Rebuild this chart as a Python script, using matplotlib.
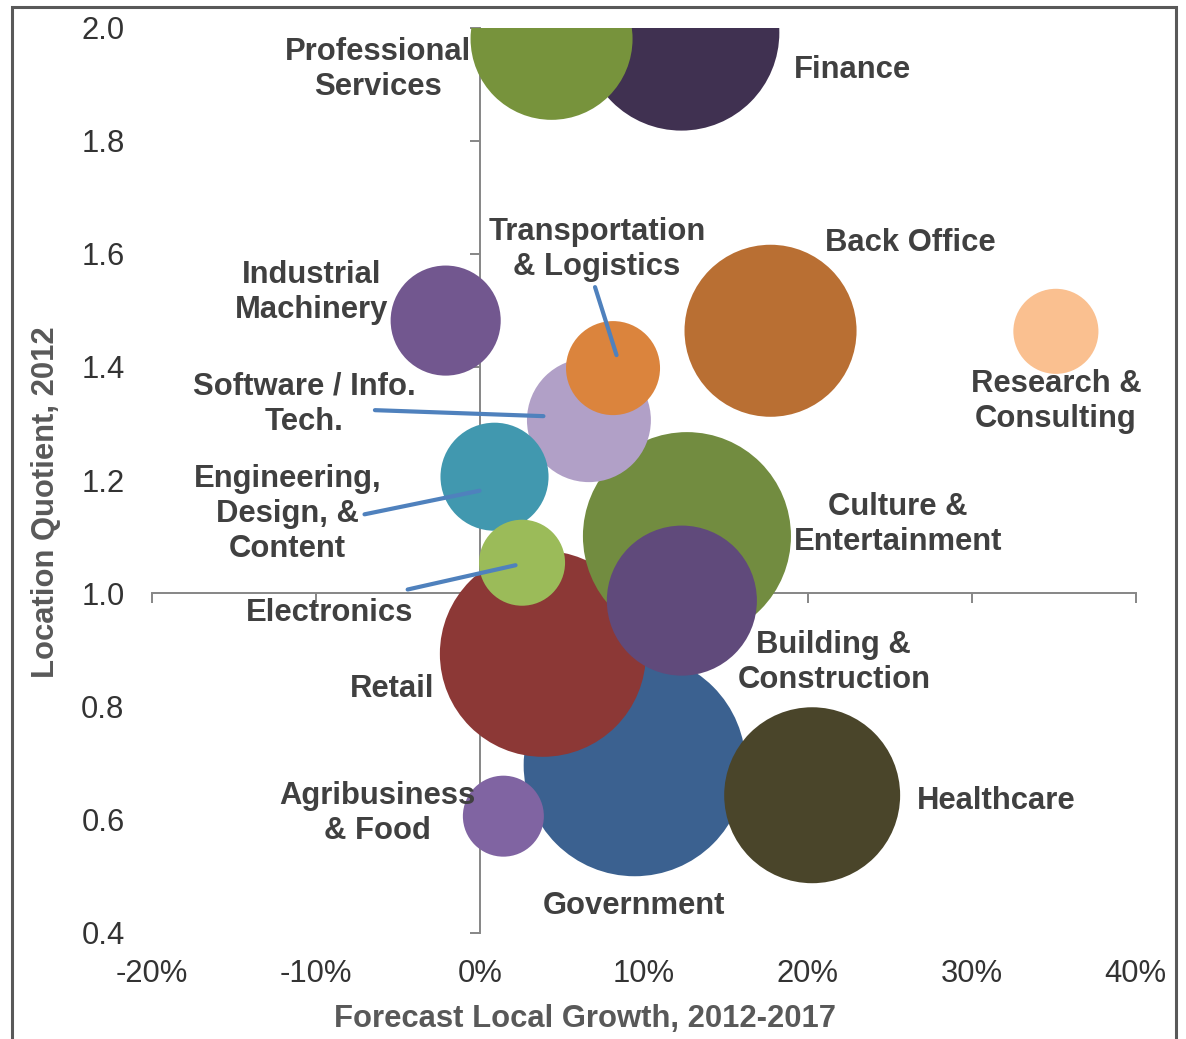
import matplotlib
matplotlib.use('Agg')
import matplotlib.pyplot as plt
from matplotlib.patches import Rectangle
from matplotlib.ticker import FuncFormatter
from matplotlib.transforms import offset_copy

plt.rcParams['font.family'] = ['Liberation Sans', 'DejaVu Sans']

# data, listed in drawing order (later bubbles sit on top)
industries = [
    'Finance', 'Professional\nServices', 'Government', 'Retail',
    'Culture &\nEntertainment', 'Software / Info.\nTech.',
    'Engineering,\nDesign, &\nContent', 'Electronics',
    'Transportation\n& Logistics', 'Building &\nConstruction', 'Healthcare',
    'Agribusiness\n& Food', 'Back Office', 'Research &\nConsulting',
    'Industrial\nMachinery',
]
growth = [12.28, 4.36, 9.43, 3.83, 12.62, 6.64, 0.88, 2.56, 8.11, 12.31,
          20.26, 1.42, 17.72, 35.13, -2.10]          # % forecast growth
location_quotient = [1.991, 1.980, 0.696, 0.893, 1.101, 1.306, 1.206, 1.054,
                     1.398, 0.987, 0.643, 0.606, 1.464, 1.463, 1.482]
bubble_size = [96.0, 65.6, 123.2, 106.1, 108.2, 38.4, 29.2, 18.5, 22.1,
               56.3, 77.4, 16.4, 74.0, 18.1, 30.3]

x_ticks = [-20, -10, 0, 10, 20, 30, 40]
y_ticks = [0.4, 0.6, 0.8, 1.0, 1.2, 1.4, 1.6, 1.8, 2.0]

# styling / layout
colors = ['#403151', '#77933C', '#3B6190', '#8C3836', '#728C40', '#B1A0C7',
          '#4198AF', '#9BBB59', '#DB843D', '#604A7B', '#4A452A', '#8064A2',
          '#B96F33', '#FAC090', '#72578F']
# label offsets from bubble centre, in pixels
label_offsets = [(171, -37), (-174, -31), (-1, -141), (-151, -35), (211, 12),
                 (-285, 16), (-207, -37), (-192, -50), (-16, 119), (152, -62),
                 (184, -6), (-126, 3), (140, 88), (0, -70), (-134, 28)]
# leader lines: industry index -> (start offset, end offset) in pixels
leaders = {
    8: ((-18, 81), (3.5, 13)),
    5: ((-214, 10), (-45.5, 4)),
    6: ((-130, -37.6), (-15, -14)),
    7: ((-114.4, -26.8), (-6.5, -2.5)),
}
SIZE_SCALE = 207.36
FS = 22.3
GRID_GRAY = '#868686'

fig = plt.figure(figsize=(11.86, 10.39), dpi=100)
ax = fig.add_axes([0.1284, 0.1023, 0.8292, 0.8712])
ax.set_xlim(-20, 40)
ax.set_ylim(0.4, 2.0)

ax.scatter(growth, location_quotient, s=[v * SIZE_SCALE for v in bubble_size],
           c=colors, linewidths=0, zorder=3)

for i, name in enumerate(industries):
    ax.annotate(name, (growth[i], location_quotient[i]), xytext=label_offsets[i],
                textcoords='offset pixels', ha='center', va='center',
                fontsize=FS, fontweight='bold', color='#404040',
                linespacing=1.22, zorder=6, annotation_clip=False)

for i, (start, end) in leaders.items():
    p = (growth[i], location_quotient[i])
    ax.annotate('', xy=p, xytext=p,
                xycoords=offset_copy(ax.transData, fig=fig, x=end[0], y=end[1], units='dots'),
                textcoords=offset_copy(ax.transData, fig=fig, x=start[0], y=start[1], units='dots'),
                arrowprops=dict(arrowstyle='-', color='#4F81BD', lw=3,
                                shrinkA=0, shrinkB=0),
                zorder=5)

# crossing axis lines at x=0 and y=1.0
ax.spines['left'].set_position(('data', 0))
ax.spines['bottom'].set_position(('data', 1.0))
for side in ['top', 'right']:
    ax.spines[side].set_visible(False)
for side in ['left', 'bottom']:
    ax.spines[side].set_color(GRID_GRAY)
    ax.spines[side].set_linewidth(1.4)
    ax.spines[side].set_zorder(2)
ax.set_xticks(x_ticks)
ax.set_yticks(y_ticks)
ax.tick_params(direction='out', length=7.2, width=1.4, color=GRID_GRAY,
               labelleft=False, labelbottom=False)

# tick labels sit at the plot edges
secy = ax.secondary_yaxis('left')
secy.set_yticks(y_ticks)
secy.yaxis.set_major_formatter(FuncFormatter(lambda v, p: f'{v:.1f}'))
secy.spines['left'].set_visible(False)
secy.tick_params(length=0, pad=20, labelsize=FS, labelcolor='#333333')

secx = ax.secondary_xaxis('bottom')
secx.set_xticks(x_ticks)
secx.xaxis.set_major_formatter(FuncFormatter(lambda v, p: f'{v:.0f}%'))
secx.spines['bottom'].set_visible(False)
secx.tick_params(length=0, pad=19, labelsize=FS, labelcolor='#333333')

fig.text(584.5 / 1186, 1 - 1019 / 1039, 'Forecast Local Growth, 2012-2017',
         ha='center', va='center', fontsize=FS, fontweight='bold', color='#595959')
fig.text(46 / 1186, 1 - 502.5 / 1039, 'Location Quotient, 2012', rotation=90,
         ha='center', va='center', fontsize=FS, fontweight='bold', color='#595959')

# outer chart border (bottom edge falls outside the image)
fig.patches.append(Rectangle((11.5 / 1186, -0.05), (1175.7 - 11.5) / 1186,
                             0.99374 + 0.05, transform=fig.transFigure,
                             fill=False, ec='#595959', lw=2.2))

fig.savefig('out.png', dpi=100)
